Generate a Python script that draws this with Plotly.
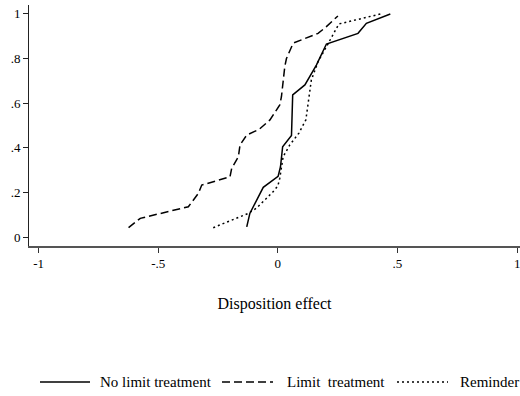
import plotly.graph_objects as go

# Cumulative distributions (x: disposition effect, y: cumulative share)
nolimit_x = [-0.130, -0.117, -0.061, 0.001, 0.011, 0.020, 0.057, 0.062, 0.113, 0.161, 0.203, 0.335, 0.370, 0.470]
nolimit_y = [0.046, 0.106, 0.223, 0.272, 0.315, 0.405, 0.455, 0.637, 0.682, 0.771, 0.865, 0.913, 0.958, 1.0]

limit_x = [-0.624, -0.575, -0.374, -0.332, -0.318, -0.200, -0.193, -0.165, -0.158, -0.130, -0.078,
           -0.033, 0.008, 0.015, 0.029, 0.036, 0.064, 0.168, 0.203, 0.251]
limit_y = [0.042, 0.084, 0.136, 0.196, 0.233, 0.270, 0.308, 0.360, 0.413, 0.457, 0.483,
           0.525, 0.592, 0.629, 0.764, 0.800, 0.869, 0.913, 0.943, 0.991]

reminder_x = [-0.270, -0.124, -0.089, -0.020, 0.000, 0.008, 0.022, 0.050, 0.088, 0.117, 0.140,
              0.168, 0.203, 0.255, 0.430]
reminder_y = [0.042, 0.106, 0.130, 0.203, 0.229, 0.263, 0.360, 0.413, 0.466, 0.525, 0.704,
              0.786, 0.853, 0.955, 1.0]

series_names = ["No limit treatment", "Limit  treatment", "Reminder"]
series_dash = ["solid", "8px,4px", "2px,3px"]

x_ticks = [-1, -0.5, 0, 0.5, 1]
x_ticktext = ["-1", "-.5", "0", ".5", "1"]
y_ticks = [0, 0.2, 0.4, 0.6, 0.8, 1]
y_ticktext = ["0", ".2", ".4", ".6", ".8", "1"]

FONT = "Liberation Serif"

fig = go.Figure()
for xs, ys, nm, ds in zip([nolimit_x, limit_x, reminder_x], [nolimit_y, limit_y, reminder_y],
                          series_names, series_dash):
    fig.add_trace(go.Scatter(x=xs, y=ys, mode="lines", name=nm, showlegend=False,
                             line=dict(color="black", width=1.5, dash=ds)))

# Manual legend (paper coordinates; plot area spans px 29..520 horizontally, 5..246 vertically)
def px_x(p):
    return (p - 29) / 491.0

def px_y(p):
    return (246 - p) / 241.0

legend_line_x = [(40, 90), (222, 273), (397, 448)]
legend_text_x = [98, 285, 458]
leg_y = 382
for (x0, x1), tx, nm, ds in zip(legend_line_x, legend_text_x, series_names, series_dash):
    fig.add_shape(type="line", xref="paper", yref="paper", x0=px_x(x0), x1=px_x(x1),
                  y0=px_y(leg_y), y1=px_y(leg_y), line=dict(color="black", width=1.5, dash=ds))
    fig.add_annotation(xref="paper", yref="paper", x=px_x(tx), y=px_y(leg_y), text=nm,
                       showarrow=False, xanchor="left", yanchor="middle",
                       font=dict(family=FONT, size=15, color="black"))

fig.update_layout(
    width=520, height=396,
    margin=dict(l=29, r=0, t=5, b=150),
    paper_bgcolor="white", plot_bgcolor="white",
    font=dict(family=FONT, size=12, color="black"),
    showlegend=False,
    xaxis=dict(range=[-1.04, 1.012], tickvals=x_ticks, ticktext=x_ticktext,
               showgrid=False, zeroline=False, showline=True, linecolor="#555", linewidth=1.5,
               ticks="outside", ticklen=5, tickcolor="#333", ticklabeloverflow="allow",
               tickfont=dict(family=FONT, size=13),
               title=dict(text="Disposition effect", font=dict(family=FONT, size=16), standoff=27)),
    yaxis=dict(range=[-0.04, 1.04], tickvals=y_ticks, ticktext=y_ticktext,
               showgrid=False, zeroline=False, showline=True, linecolor="#222", linewidth=1,
               ticks="outside", ticklen=5, tickcolor="#222",
               tickfont=dict(family=FONT, size=13)),
)

fig.write_html("out.html")
